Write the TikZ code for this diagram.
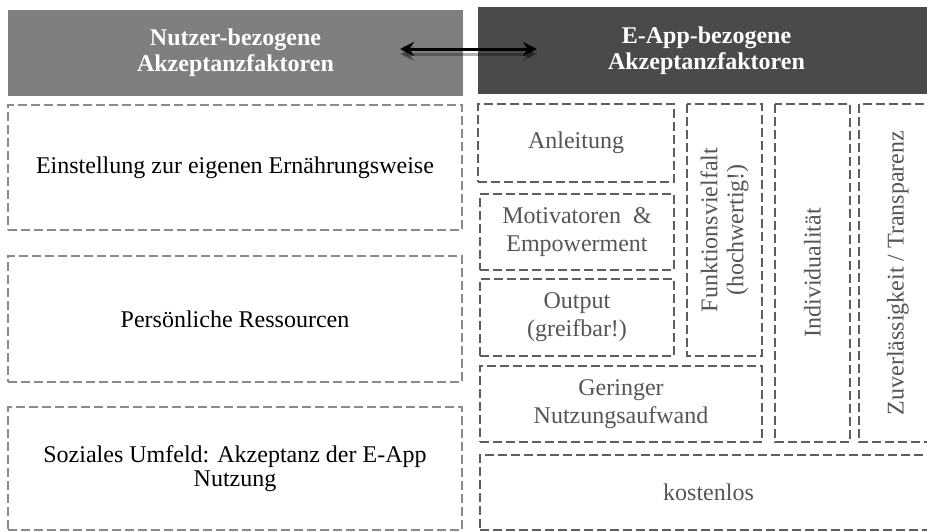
\documentclass[tikz,border=0pt]{standalone}
\usepackage{fontspec}
\setmainfont{Liberation Serif}
\usetikzlibrary{arrows.meta}
\definecolor{hdrL}{HTML}{7F7F7F}
\definecolor{hdrR}{HTML}{4A4A4A}
\definecolor{dashL}{HTML}{8A8A8A}
\definecolor{dashR}{HTML}{5E5E5E}
\definecolor{txtR}{HTML}{555555}
\begin{document}
\begin{tikzpicture}[x=1pt,y=-1pt,
  box/.style={rectangle, anchor=center, inner sep=0pt, outer sep=0pt, align=center,
              line width=2.6pt, dash pattern=on 9pt off 4pt},
  lbox/.style={box, draw=dashL, text=black, font=\fontsize{24}{24}\selectfont},
  rbox/.style={box, draw=dashR, text=txtR, font=\fontsize{24}{28}\selectfont},
  hdr/.style={rectangle, anchor=center, inner sep=0pt, align=center, text=white,
              font=\fontsize{24}{26}\selectfont\bfseries},
  link/.style={line width=3pt, black, {Stealth[length=14pt,width=14pt]}-{Stealth[length=14pt,width=14pt]}},
  linkshadow/.style={line width=3pt, black, opacity=0.3, {Stealth[length=14pt,width=14pt]}-{Stealth[length=14pt,width=14pt]}},
]
\clip (0,0) rectangle (927,531);
\fill[white] (0,0) rectangle (927,531);

% headers
\node[hdr, fill=hdrL, minimum width=455pt, minimum height=86pt] (hL) at (235.5,53) {Nutzer-bezogene\\Akzeptanzfaktoren};
\node[hdr, fill=hdrR, minimum width=457pt, minimum height=87pt] (hR) at (706.5,50.5) {E-App-bezogene\\Akzeptanzfaktoren};

% double arrow
\coordinate (al) at (400,49);
\coordinate (ar) at (537,49);
\draw[linkshadow] ([yshift=-5pt]al) -- ([yshift=-5pt]ar);
\draw[link] (al) -- (ar);

% left column
\node[lbox, minimum width=454pt, minimum height=125pt] (l1) at (235,167.5) {Einstellung zur eigenen Ernährungsweise};
\node[lbox, minimum width=454pt, minimum height=126pt] (l2) at (235,319) {Persönliche Ressourcen};
\node[lbox, minimum width=454pt, minimum height=123pt] (l3) at (235,468.5) {Soziales Umfeld: Akzeptanz der E-App\\Nutzung};

% right column
\node[rbox, minimum width=196pt, minimum height=78pt] (anl) at (576,143) {Anleitung};
\node[rbox, minimum width=194pt, minimum height=76pt] (mot) at (577,232) {Motivatoren\enspace\&\\Empowerment};
\node[rbox, minimum width=194pt, minimum height=77pt] (out) at (577,317.5) {Output\\(greifbar!)};
\node[rbox, rotate=90, minimum width=252pt, minimum height=75pt] (fun) at (724.5,230) {Funktionsvielfalt\\[-2pt](hochwertig!)};
\node[rbox, rotate=90, minimum width=338pt, minimum height=75pt] (ind) at (812.5,273) {Individualität};
\node[rbox, rotate=90, minimum width=338pt, minimum height=78pt] (zuv) at (898,273) {Zuverlässigkeit / Transparenz};
\node[rbox, minimum width=282pt, minimum height=76pt] (ger) at (621,404) {Geringer\\Nutzungsaufwand};
\node[rbox, minimum width=457pt, minimum height=75pt] (kos) at (708.5,492.5) {kostenlos};
\end{tikzpicture}
\end{document}
